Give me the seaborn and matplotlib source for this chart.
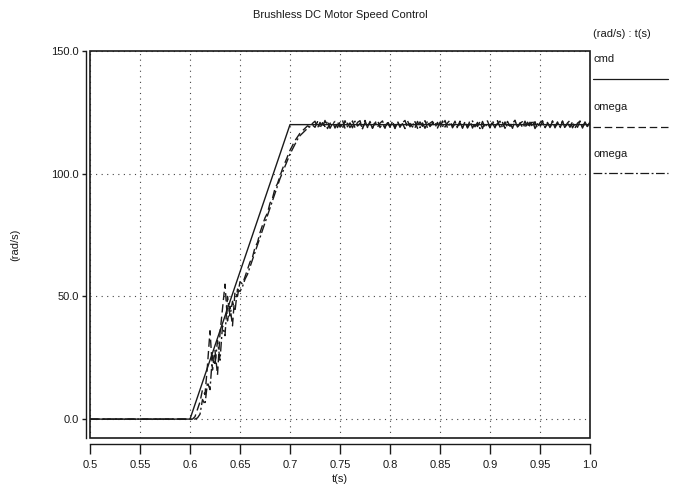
import numpy as np
import pandas as pd
import matplotlib
matplotlib.use("Agg")
import matplotlib.pyplot as plt
import seaborn as sns
from matplotlib.lines import Line2D
from matplotlib.patches import Rectangle

# ---------------- data ----------------
title = "Brushless DC Motor Speed Control"
x_ticks = [0.5, 0.55, 0.6, 0.65, 0.7, 0.75, 0.8, 0.85, 0.9, 0.95, 1.0]
x_tick_labels = ["0.5", "0.55", "0.6", "0.65", "0.7", "0.75", "0.8", "0.85", "0.9", "0.95", "1.0"]
y_ticks = [0, 50, 100, 150]
y_tick_labels = ["0.0", "50.0", "100.0", "150.0"]

cmd_t = [0.5, 0.6, 0.7, 1.0]
cmd_v = [0.0, 0.0, 120.0, 120.0]

t_step = 0.0025
t_first = 0.6
omega_dash = [
    0, 0, 1, 4, 7, 12, 10, 22, 36, 20, 28, 18, 35, 45, 55, 40, 46, 38, 52, 50, 56,
    55, 58, 61, 64, 66, 70, 72, 76, 79, 82, 84, 88, 90, 94, 96, 99, 102, 104.5, 107,
    109.5, 111.5, 113.5, 115, 116.5, 117.5, 118.5, 119.5, 119, 120.5,
    121.4, 118.6, 120.9, 118.9, 121.7, 118.4, 120.5, 121.3, 118.6, 121.1,
    119.0, 121.8, 118.5, 120.6, 118.8, 121.5, 118.7, 120.9, 121.6, 118.3,
    120.8, 119.0, 121.3, 118.6, 120.7, 121.9, 118.8, 120.4, 118.5, 121.5,
    119.2, 121.0, 118.4, 121.4, 118.9, 120.8, 121.7, 118.7, 120.5, 119.0,
    121.2, 118.5, 121.1, 119.3, 121.6, 118.6, 120.6, 121.3, 118.8, 120.9,
    118.4, 121.5, 119.0, 120.7, 121.8, 118.7, 120.4, 119.1, 121.4, 118.5,
    121.0, 118.9, 121.7, 118.6, 120.8, 119.2, 121.2, 118.4, 121.1, 121.5,
    118.8, 120.6, 118.7, 121.6, 119.0, 120.9, 118.5, 121.3, 119.3, 120.5,
    121.8, 118.6, 120.7, 118.9, 121.4, 118.7, 121.0, 119.1, 121.2, 118.4,
    120.8, 121.6, 118.8, 120.4, 118.6, 121.5, 119.2, 121.1, 118.5, 121.3,
    119.0, 120.7, 121.7, 118.7, 120.5, 118.9, 121.4, 118.6, 120.9, 119.2,
    121.2,
]
omega_dashdot = [
    0, 0, 0, 0.5, 2, 8, 6, 15, 12, 26, 22, 32, 24, 38, 34, 50, 42, 48, 44, 53, 52,
    54, 57, 59, 62, 65, 68, 71, 74, 77, 80, 83, 86, 89, 92, 95, 98, 100.5, 103, 105.5,
    108, 110, 112, 114, 115.5, 116.5, 117.5, 118.5, 119.2, 119.8,
    118.9, 121.2, 118.6, 120.8, 119.2, 121.5, 118.5, 120.4, 121.3, 118.8,
    121.0, 118.4, 121.6, 119.1, 120.7, 118.7, 121.4, 119.4, 120.5, 118.6,
    121.7, 118.8, 120.9, 118.5, 121.2, 119.0, 120.6, 121.5, 118.7, 120.8,
    118.9, 121.4, 118.6, 121.1, 119.3, 120.4, 118.4, 121.6, 119.1, 120.9,
    118.7, 121.3, 118.8, 120.7, 118.5, 121.5, 119.2, 120.5, 121.2, 118.6,
    121.0, 119.0, 121.7, 118.7, 120.6, 119.4, 121.4, 118.5, 120.8, 118.9,
    121.2, 118.6, 120.4, 121.5, 119.1, 120.9, 118.4, 121.3, 118.8, 120.7,
    118.7, 121.6, 119.2, 120.5, 121.4, 118.6, 121.1, 118.9, 120.8, 118.5,
    121.5, 119.0, 120.6, 121.2, 118.7, 121.0, 119.3, 121.7, 118.4, 120.4,
    119.1, 121.3, 118.6, 120.9, 118.8, 121.4, 118.7, 120.7, 119.2, 121.5,
    118.5, 120.8, 118.9, 121.2, 118.6, 120.6, 121.4, 118.8, 121.1, 119.1,
    120.8,
]
assert len(omega_dash) == len(omega_dashdot) == 161

t_om = [0.5] + list(np.round(t_first + t_step * np.arange(len(omega_dash)), 4))
om1 = [0.0] + omega_dash
om2 = [0.0] + omega_dashdot

# ---------------- plot ----------------
sns.set_theme(style="white")
plt.rcParams["font.family"] = ["Liberation Sans", "DejaVu Sans"]

W, H = 683, 493
fig = plt.figure(figsize=(W / 100, H / 100), dpi=100)
fig.patch.set_facecolor("white")
ax = fig.add_axes([90 / W, 1 - 438 / H, 500 / W, 387 / H])
ax.set_facecolor("white")

sns.lineplot(x=cmd_t, y=cmd_v, ax=ax, color="k", lw=1.0, estimator=None, sort=False)
sns.lineplot(x=t_om, y=om1, ax=ax, color="k", lw=1.0, estimator=None, sort=False,
             linestyle=(0, (6, 3)))
sns.lineplot(x=t_om, y=om2, ax=ax, color="k", lw=1.0, estimator=None, sort=False,
             linestyle=(0, (7, 2, 1.5, 2)))

ax.set_xlim(0.5, 1.0)
ax.set_ylim(-7.7, 150)
ax.set_xticks(x_ticks)
ax.set_xticklabels(x_tick_labels)
ax.set_yticks(y_ticks)
ax.set_yticklabels(y_tick_labels)

ax.grid(True, linestyle=(0, (1, 4)), color="#444444", lw=0.8)
ax.add_patch(Rectangle((0, 0), 1, 1, transform=ax.transAxes, fill=False,
                       lw=1.2, ec="k", clip_on=False, zorder=5))
for s in ["top", "right"]:
    ax.spines[s].set_visible(False)
ax.spines["bottom"].set_position(("outward", 4))
ax.spines["left"].set_position(("outward", 3))
for s in ["bottom", "left"]:
    ax.spines[s].set_color("k")
    ax.spines[s].set_linewidth(1.0)

ax.tick_params(axis="x", direction="out", length=7, width=1, labelsize=8, pad=5,
               colors="k", bottom=True)
ax.tick_params(axis="y", direction="out", length=3, width=1, labelsize=8, pad=2,
               colors="k", left=True)

ax.set_xlabel("t(s)", fontsize=8, labelpad=3, color="k")
ax.set_ylabel("(rad/s)", fontsize=8, labelpad=22, color="k")

fig.text(340 / W, 1 - 15 / H, title, ha="center", va="center", fontsize=8, color="k")

# legend (text above sample line)
fig.text(593 / W, 1 - 34 / H, "(rad/s) : t(s)", ha="left", va="center", fontsize=8, color="k")
fig.text(593 / W, 1 - 59 / H, "cmd", ha="left", va="center", fontsize=8, color="k")
fig.text(593 / W, 1 - 107 / H, "omega", ha="left", va="center", fontsize=8, color="k")
fig.text(593 / W, 1 - 154 / H, "omega", ha="left", va="center", fontsize=8, color="k")
fig.add_artist(Line2D([593 / W, 668 / W], [1 - 79 / H] * 2, transform=fig.transFigure,
                      color="k", lw=0.9))
fig.add_artist(Line2D([593 / W, 668 / W], [1 - 127 / H] * 2, transform=fig.transFigure,
                      color="k", lw=0.9, linestyle=(0, (6, 3))))
fig.add_artist(Line2D([593 / W, 668 / W], [1 - 173 / H] * 2, transform=fig.transFigure,
                      color="k", lw=0.9, linestyle=(0, (7, 2, 1.5, 2))))

fig.savefig("out.png", dpi=100)
